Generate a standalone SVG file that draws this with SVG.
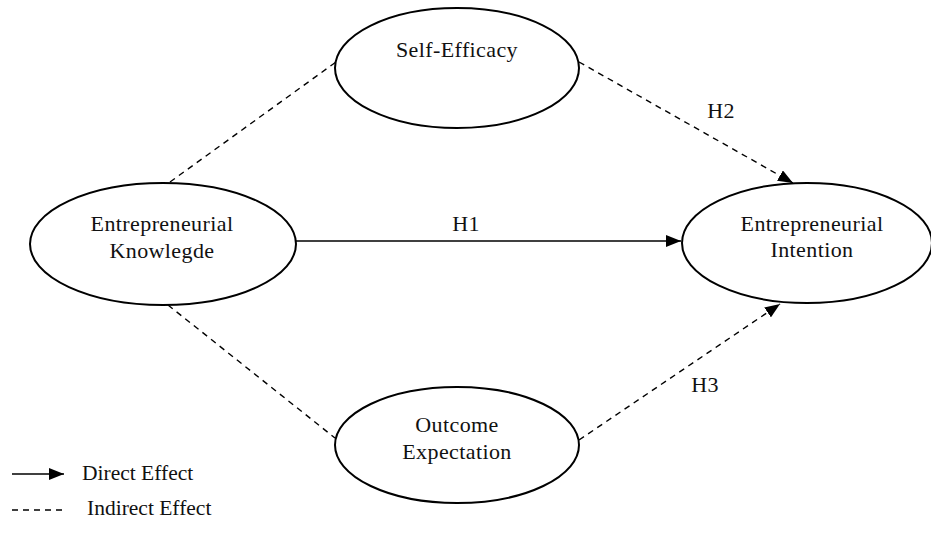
<svg xmlns="http://www.w3.org/2000/svg" width="931" height="537" viewBox="0 0 931 537">
<style>
.node{fill:#fff;stroke:#000;stroke-width:2}
.t{font-family:"Liberation Serif","Times New Roman",serif;font-size:22px;letter-spacing:0.4px;fill:#111;text-anchor:middle}
.tl{font-family:"Liberation Serif","Times New Roman",serif;font-size:21.5px;fill:#111}
.solid{stroke:#000;stroke-width:1.6;fill:none}
.dash{stroke:#000;stroke-width:1.4;fill:none;stroke-dasharray:6 5}
</style>
<defs>
<marker id="ah" markerUnits="userSpaceOnUse" markerWidth="16" markerHeight="12" refX="15" refY="6" orient="auto">
<path d="M0,0 L15,6 L0,12 Z" fill="#000"/>
</marker>
</defs>
<rect width="931" height="537" fill="#fff"/>
<g id="connectors">
<line class="dash" x1="170" y1="182" x2="336" y2="62"/>
<line class="dash" x1="168" y1="305" x2="335" y2="438"/>
<line class="dash" x1="579" y1="62" x2="793" y2="183" marker-end="url(#ah)"/>
<line class="dash" x1="579" y1="440" x2="780" y2="304" marker-end="url(#ah)"/>
<line class="solid" x1="295" y1="241" x2="681" y2="241" marker-end="url(#ah)"/>
<text class="t" x="466" y="231">H1</text>
<text class="t" x="721" y="118">H2</text>
<text class="t" x="705" y="392">H3</text>
</g>
<g id="knowledge">
<ellipse class="node" cx="163" cy="244" rx="133" ry="61"/>
<text class="t" x="162" y="231">Entrepreneurial</text>
<text class="t" x="162" y="258">Knowlegde</text>
</g>
<g id="selfefficacy">
<ellipse class="node" cx="457" cy="68" rx="122" ry="60"/>
<text class="t" x="457" y="57">Self-Efficacy</text>
</g>
<g id="outcome">
<ellipse class="node" cx="457" cy="445" rx="122" ry="58"/>
<text class="t" x="457" y="432">Outcome</text>
<text class="t" x="457" y="459">Expectation</text>
</g>
<g id="intention">
<ellipse class="node" cx="807" cy="243" rx="125" ry="60"/>
<text class="t" x="812" y="231">Entrepreneurial</text>
<text class="t" x="812" y="257">Intention</text>
</g>
<g id="legend">
<line class="solid" x1="12" y1="474" x2="64" y2="474" marker-end="url(#ah)"/>
<text class="tl" x="82" y="480">Direct Effect</text>
<line class="dash" x1="12" y1="510" x2="63" y2="510"/>
<text class="tl" x="87" y="515">Indirect Effect</text>
</g>
</svg>
